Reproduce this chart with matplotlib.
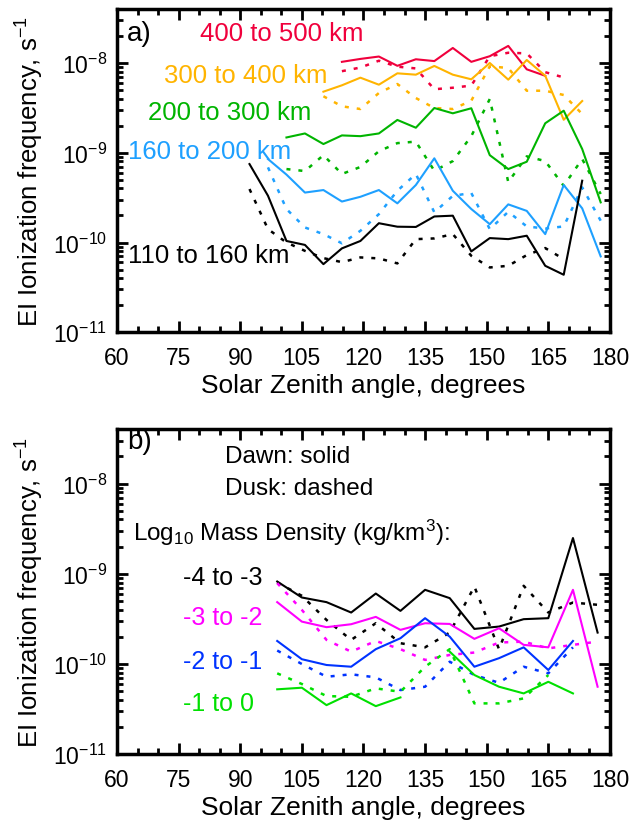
import numpy as np
import matplotlib
matplotlib.use('Agg')
import matplotlib.pyplot as plt
from matplotlib.ticker import MultipleLocator, FixedLocator, NullFormatter, LogFormatterSciNotation

plt.rcParams['font.family'] = ['Liberation Sans', 'DejaVu Sans']
plt.rcParams['mathtext.default'] = 'regular'

nan = np.nan

# Panel a: altitude bands, 4.5 degree SZA bins
sza_a = [92.25, 96.75, 101.25, 105.75, 110.25, 114.75, 119.25, 123.75, 128.25, 132.75,
         137.25, 141.75, 146.25, 150.75, 155.25, 159.75, 164.25, 168.75, 173.25, 177.75]

red_dawn = [nan, nan, nan, nan, nan, 1.03e-8, 1.11e-8, 1.18e-8, 9.3e-9, 1.10e-8,
            1.05e-8, 1.47e-8, 1.03e-8, 1.19e-8, 1.55e-8, 8.5e-9, 7.2e-9, nan, nan, nan]
red_dusk = [nan, nan, nan, nan, nan, 8.1e-9, 8.9e-9, 1.06e-8, 9.1e-9, 8.7e-9,
            5.1e-9, 5.3e-9, 5.6e-9, 1.19e-8, 1.30e-8, 1.28e-8, 7.9e-9, 6.9e-9, nan, nan]
orange_dawn = [nan, nan, nan, nan, 4.79e-9, 5.64e-9, 6.86e-9, 5.73e-9, 7.67e-9, 7.41e-9,
               9.27e-9, 7.41e-9, 6.58e-9, 1.0e-8, 6.52e-9, 1.08e-8, 7.21e-9, 2.33e-9, 3.77e-9, nan]
orange_dusk = [nan, nan, nan, nan, 4.26e-9, 3.29e-9, 3.07e-9, 4.63e-9, 5.83e-9, 4.07e-9,
               3.15e-9, 3.07e-9, 3.80e-9, 9.18e-9, 8.79e-9, 4.91e-9, 4.91e-9, 4.40e-9, 2.70e-9, nan]
green_dawn = [nan, nan, 1.48e-9, 1.64e-9, 1.25e-9, 1.56e-9, 1.53e-9, 1.64e-9, 2.32e-9, 1.90e-9,
              3.15e-9, 2.75e-9, 3.13e-9, 9.4e-10, 6.58e-10, 7.94e-10, 2.13e-9, 2.94e-9, 1.10e-9, 2.80e-10]
green_dusk = [nan, nan, 6.58e-10, 6.25e-10, 9.4e-10, 5.80e-10, 6.94e-10, 1.04e-9, 1.28e-9, 1.33e-9,
              6.30e-10, 8.07e-10, 1.53e-9, 3.97e-9, 4.71e-10, 9.12e-10, 8.07e-10, 4.28e-10, 8.51e-10, 3.47e-10]
blue_dawn = [nan, 8.51e-10, 5.71e-10, 3.60e-10, 3.84e-10, 2.86e-10, 3.23e-10, 3.84e-10, 2.73e-10, 4.37e-10,
             8.67e-10, 3.77e-10, 2.36e-10, 1.60e-10, 2.66e-10, 2.25e-10, 1.24e-10, 4.37e-10, 2.40e-10, 7.0e-11]
blue_dusk = [nan, 6.87e-10, 2.36e-10, 1.47e-10, 1.24e-10, 9.8e-11, 1.35e-10, 2.07e-10, 3.77e-10, 5.80e-10,
             2.17e-10, 3.31e-10, 3.56e-10, 1.41e-10, 2.20e-10, 1.51e-10, 1.43e-10, 1.51e-10, 4.11e-10, 1.75e-10]
black_dawn = [7.48e-10, 3.32e-10, 1.04e-10, 9.4e-11, 5.74e-11, 8.6e-11, 1.04e-10, 1.64e-10, 1.50e-10, 1.49e-10,
              1.95e-10, 1.99e-10, 7.96e-11, 1.12e-10, 1.09e-10, 1.19e-10, 5.50e-11, 4.37e-11, 4.88e-10, nan]
black_dusk = [3.94e-10, 1.41e-10, 1.0e-10, 8.07e-11, 6.70e-11, 6.04e-11, 6.82e-11, 6.65e-11, 5.85e-11, 1.09e-10,
              1.11e-10, 1.24e-10, 7.11e-11, 5.27e-11, 5.50e-11, 7.24e-11, 8.67e-11, 6.53e-11, nan, nan]

bands_a = ['400 to 500 km', '300 to 400 km', '200 to 300 km', '160 to 200 km', '110 to 160 km']
colors_a = ['#f0003c', '#ffb400', '#00b400', '#1ea0ff', 'black']
dawn_a = [red_dawn, orange_dawn, green_dawn, blue_dawn, black_dawn]
dusk_a = [red_dusk, orange_dusk, green_dusk, blue_dusk, black_dusk]

# Panel b: mass density bands, 6 degree SZA bins
sza_b = [99, 105, 111, 117, 123, 129, 135, 141, 147, 153, 159, 165, 171, 177]

k_dawn = [8.21e-10, 5.46e-10, 4.85e-10, 3.72e-10, 6.04e-10, 3.88e-10, 6.64e-10,
          5.37e-10, 2.45e-10, 2.60e-10, 3.14e-10, 3.22e-10, 2.49e-9, 2.23e-10]
k_dusk = [8.0e-10, 5.70e-10, 3.08e-10, 1.85e-10, 2.83e-10, 1.70e-10, 1.53e-10,
          2.23e-10, 7.22e-10, 1.46e-10, 7.36e-10, 3.72e-10, 4.80e-10, 4.53e-10]
m_dawn = [4.85e-10, 2.95e-10, 2.56e-10, 2.76e-10, 3.33e-10, 2.39e-10, 2.83e-10,
          2.78e-10, 1.90e-10, 2.49e-10, 1.63e-10, 1.53e-10, 6.64e-10, 5.6e-11]
m_dusk = [7.88e-10, 3.98e-10, 1.85e-10, 1.37e-10, 1.80e-10, 1.46e-10, 1.11e-10,
          1.26e-10, 1.34e-10, 1.73e-10, 1.77e-10, 1.49e-10, 1.63e-10, 1.77e-10]
b_dawn = [1.80e-10, 1.13e-10, 9.75e-11, 9.33e-11, 1.46e-10, 1.93e-10, 3.22e-10,
          2.01e-10, 9.33e-11, 1.16e-10, 1.53e-10, 8.58e-11, 1.80e-10, nan]
b_dusk = [1.41e-10, 1.0e-10, 7.22e-11, 7.69e-11, 7.11e-11, 5.14e-11, 5.60e-11,
          1.06e-10, 7.55e-11, 6.19e-11, 9.33e-11, 7.88e-11, 1.53e-10, nan]
g_dawn = [5.24e-11, 5.46e-11, 3.50e-11, 4.72e-11, 3.41e-11, 4.26e-11, nan,
          1.37e-10, 7.55e-11, 5.60e-11, 4.72e-11, 6.35e-11, 4.72e-11, nan]
g_dusk = [7.88e-11, 6.0e-11, 4.41e-11, 4.33e-11, 5.37e-11, 4.92e-11, 9.33e-11,
          1.46e-10, 3.66e-11, 3.66e-11, 4.16e-11, 7.55e-11, nan, nan]

bands_b = ['-4 to -3', '-3 to -2', '-2 to -1', '-1 to 0']
colors_b = ['black', '#ff00ff', '#0033ff', '#00e000']
dawn_b = [k_dawn, m_dawn, b_dawn, g_dawn]
dusk_b = [k_dusk, m_dusk, b_dusk, g_dusk]

dots = (0, (1.6, 3.2))

fig = plt.figure(figsize=(6.36, 8.29), dpi=100)
ax1 = fig.add_axes([0.184, 0.598, 0.775, 0.390])
ax2 = fig.add_axes([0.184, 0.089, 0.775, 0.392])


def style_axis(ax):
    ax.set_yscale('log')
    ax.set_xlim(60, 180)
    ax.set_ylim(1e-11, 4e-8)
    ax.xaxis.set_major_locator(MultipleLocator(15))
    ax.xaxis.set_minor_locator(MultipleLocator(5))
    ax.yaxis.set_major_locator(FixedLocator([1e-11, 1e-10, 1e-9, 1e-8]))
    minors = [m * 10.0 ** e for e in range(-11, -7) for m in range(2, 10)]
    ax.yaxis.set_minor_locator(FixedLocator([v for v in minors if v < 4e-8]))
    ax.yaxis.set_major_formatter(LogFormatterSciNotation())
    ax.yaxis.set_minor_formatter(NullFormatter())
    ax.tick_params(which='both', direction='in', top=True, right=True, labelsize=16.5, width=2)
    ax.tick_params(which='major', length=8)
    ax.tick_params(axis='x', which='major', pad=10)
    ax.tick_params(axis='y', which='major', pad=7)
    ax.tick_params(which='minor', length=4)
    for sp in ax.spines.values():
        sp.set_linewidth(2.5)
    ax.set_xlabel('Solar Zenith angle, degrees', fontsize=19, labelpad=3)
    ax.set_ylabel('EI Ionization frequency, s$^{-1}$', fontsize=18.5, labelpad=5)


for c, d, k in zip(colors_a, dawn_a, dusk_a):
    ax1.plot(sza_a, d, color=c, lw=1.5)
    ax1.plot(sza_a, k, color=c, lw=1.8, linestyle=dots)
style_axis(ax1)

txt_pos_a = [(0.168, 0.926), (0.095, 0.796), (0.063, 0.681), (0.022, 0.560), (0.022, 0.238)]
for (tx, ty), lab, c in zip(txt_pos_a, bands_a, colors_a):
    ax1.text(tx, ty, lab, color=c, fontsize=18.5, transform=ax1.transAxes, va='center')
ax1.text(0.02, 0.926, 'a)', fontsize=20, transform=ax1.transAxes, va='center')

for c, d, k in zip(colors_b, dawn_b, dusk_b):
    ax2.plot(sza_b, d, color=c, lw=1.5)
    ax2.plot(sza_b, k, color=c, lw=1.8, linestyle=dots)
style_axis(ax2)

ax2.text(0.02, 0.963, 'b)', fontsize=20, transform=ax2.transAxes, va='center')
ax2.text(0.219, 0.917, 'Dawn: solid', fontsize=17.5, transform=ax2.transAxes, va='center')
ax2.text(0.219, 0.818, 'Dusk: dashed', fontsize=17.5, transform=ax2.transAxes, va='center')
ax2.text(0.032, 0.683, 'Log$_{10}$ Mass Density (kg/km$^{3}$):', fontsize=17.5,
         transform=ax2.transAxes, va='center')
txt_pos_b = [(0.134, 0.545), (0.134, 0.422), (0.134, 0.286), (0.134, 0.157)]
for (tx, ty), lab, c in zip(txt_pos_b, bands_b, colors_b):
    ax2.text(tx, ty, lab, color=c, fontsize=18, transform=ax2.transAxes, va='center')

fig.savefig('out.png', dpi=100)
